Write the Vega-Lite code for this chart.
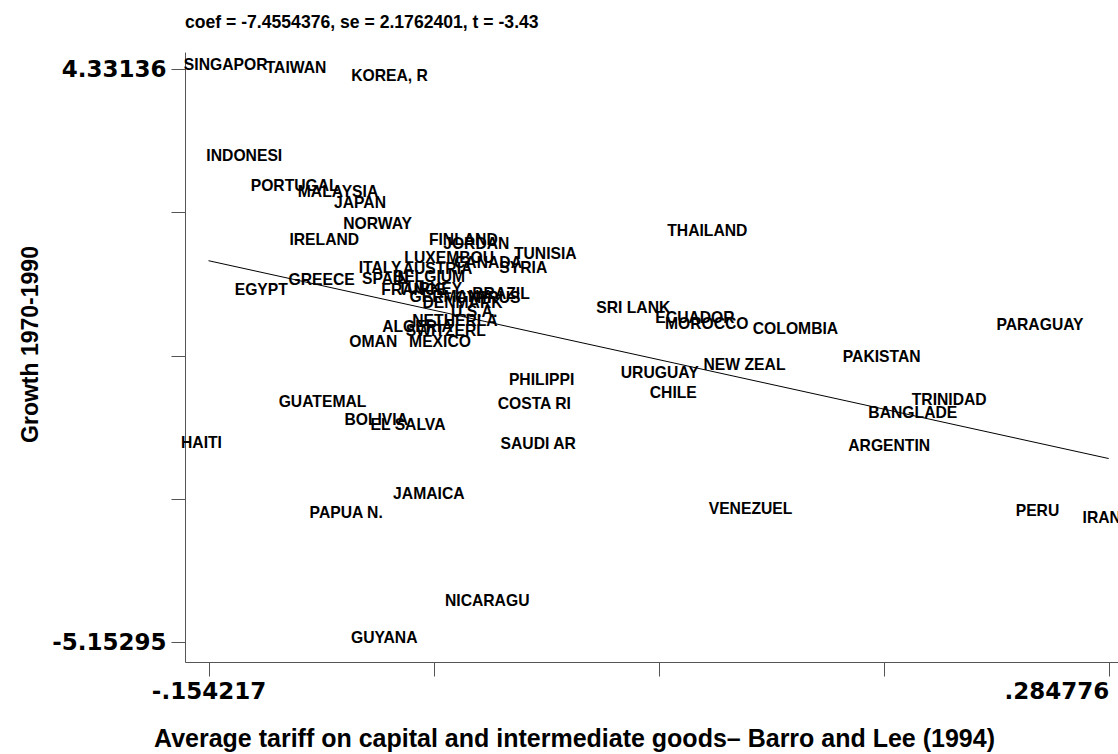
{
  "$schema": "https://vega.github.io/schema/vega-lite/v6.json",
  "autosize": "none",
  "width": 933,
  "height": 610,
  "padding": {"left": 185, "top": 52, "right": 0, "bottom": 92},
  "background": "white",
  "config": {"view": {"stroke": null}},
  "title": {
    "text": "coef = -7.4554376, se = 2.1762401, t = -3.43",
    "anchor": "start",
    "frame": "group",
    "font": "Liberation Sans",
    "fontWeight": "bold",
    "fontSize": 17.6,
    "color": "black",
    "offset": 20
  },
  "encoding": {
    "x": {
      "field": "x",
      "type": "quantitative",
      "scale": {"domain": [-0.16568, 0.28931], "nice": false, "zero": false},
      "axis": {
        "title": "Average tariff on capital and intermediate goods– Barro and Lee (1994)",
        "values": [-0.154217, -0.04446875, 0.0653005, 0.17502775, 0.284776],
        "labelExpr": "datum.value < -0.15 ? '-.154217' : (datum.value > 0.28 ? '.284776' : '')",
        "labelAlign": {"condition": {"test": "datum.value > 0.28", "value": "right"}, "value": "center"},
        "labelOverlap": false,
        "labelBound": false,
        "labelFlush": false,
        "grid": false,
        "domainColor": "#555555",
        "tickColor": "#555555",
        "tickSize": 14,
        "labelPadding": 4,
        "labelFont": "DejaVu Sans",
        "labelFontWeight": "bold",
        "labelFontSize": 23,
        "labelColor": "black",
        "titleFont": "Liberation Sans",
        "titleFontWeight": "bold",
        "titleFontSize": 25,
        "titleColor": "black",
        "titleX": 389,
        "titleY": 76,
        "titleBaseline": "middle",
        "titleAlign": "center"
      }
    },
    "y": {
      "field": "y",
      "type": "quantitative",
      "scale": {"domain": [-5.4789, 4.6126], "nice": false, "zero": false},
      "axis": {
        "title": "Growth 1970-1990",
        "values": [-5.15295, -2.78187, -0.410795, 1.960283, 4.33136],
        "labelExpr": "datum.value > 4 ? '4.33136' : (datum.value < -5 ? '-5.15295' : '')",
        "labelOverlap": false,
        "labelBound": false,
        "labelFlush": false,
        "grid": false,
        "domainColor": "#555555",
        "tickColor": "#555555",
        "tickSize": 14,
        "labelPadding": 5,
        "labelFont": "DejaVu Sans",
        "labelFontWeight": "bold",
        "labelFontSize": 23,
        "labelColor": "black",
        "titleFont": "Liberation Sans",
        "titleFontWeight": "bold",
        "titleFontSize": 23,
        "titleColor": "black",
        "titleAngle": -90,
        "titleX": -155,
        "titleY": 292,
        "titleAlign": "center",
        "titleBaseline": "middle"
      }
    }
  },
  "layer": [
    {
      "data": {
        "values": [
          {"country": "SINGAPOR", "x": -0.14242, "y": 4.33136},
          {"country": "TAIWAN", "x": -0.10814, "y": 4.2735},
          {"country": "KOREA, R", "x": -0.06254, "y": 4.1527},
          {"country": "INDONESI", "x": -0.13335, "y": 2.8226},
          {"country": "PORTUGAL", "x": -0.10877, "y": 2.3346},
          {"country": "MALAYSIA", "x": -0.08765, "y": 2.2337},
          {"country": "JAPAN", "x": -0.07693, "y": 2.0533},
          {"country": "NORWAY", "x": -0.06834, "y": 1.7092},
          {"country": "IRELAND", "x": -0.09434, "y": 1.4329},
          {"country": "EGYPT", "x": -0.12506, "y": 0.6058},
          {"country": "GREECE", "x": -0.0956, "y": 0.7712},
          {"country": "ITALY", "x": -0.06717, "y": 0.9648},
          {"country": "SPAIN", "x": -0.06454, "y": 0.7993},
          {"country": "OMAN", "x": -0.07044, "y": -0.2479},
          {"country": "FINLAND", "x": -0.02655, "y": 1.4329},
          {"country": "JORDAN", "x": -0.02021, "y": 1.3651},
          {"country": "TUNISIA", "x": 0.01344, "y": 1.2013},
          {"country": "LUXEMBOU", "x": -0.03343, "y": 1.1467},
          {"country": "CANADA", "x": -0.0145, "y": 1.0558},
          {"country": "SYRIA", "x": 0.00271, "y": 0.973},
          {"country": "AUSTRIA", "x": -0.03913, "y": 0.9565},
          {"country": "BELGIUM", "x": -0.04328, "y": 0.8324},
          {"country": "FRANCE", "x": -0.05059, "y": 0.6058},
          {"country": "TURKEY", "x": -0.04279, "y": 0.6256},
          {"country": "BRAZIL", "x": -0.00817, "y": 0.5429},
          {"country": "GERMANY", "x": -0.03323, "y": 0.4966},
          {"country": "CYPRUS", "x": -0.0146, "y": 0.4685},
          {"country": "DENMARK", "x": -0.02694, "y": 0.394},
          {"country": "U.S.A.", "x": -0.02124, "y": 0.2418},
          {"country": "NETHERLA", "x": -0.0306, "y": 0.088},
          {"country": "ALGERIA", "x": -0.04889, "y": 0.0003},
          {"country": "SWITZERL", "x": -0.03508, "y": -0.0725},
          {"country": "MEXICO", "x": -0.03791, "y": -0.2479},
          {"country": "THAILAND", "x": 0.09244, "y": 1.5851},
          {"country": "SRI LANK", "x": 0.05635, "y": 0.308},
          {"country": "ECUADOR", "x": 0.08644, "y": 0.1376},
          {"country": "MOROCCO", "x": 0.09215, "y": 0.0466},
          {"country": "COLOMBIA", "x": 0.13545, "y": -0.0328},
          {"country": "PARAGUAY", "x": 0.25468, "y": 0.03},
          {"country": "PAKISTAN", "x": 0.17749, "y": -0.4911},
          {"country": "NEW ZEAL", "x": 0.11058, "y": -0.6399},
          {"country": "URUGUAY", "x": 0.06923, "y": -0.7673},
          {"country": "CHILE", "x": 0.07586, "y": -1.0982},
          {"country": "TRINIDAD", "x": 0.2104, "y": -1.214},
          {"country": "BANGLADE", "x": 0.19266, "y": -1.429},
          {"country": "ARGENTIN", "x": 0.18114, "y": -1.9717},
          {"country": "VENEZUEL", "x": 0.11351, "y": -3.0189},
          {"country": "PERU", "x": 0.25346, "y": -3.047},
          {"country": "IRAN", "x": 0.284776, "y": -3.1578},
          {"country": "PHILIPPI", "x": 0.01163, "y": -0.8831},
          {"country": "GUATEMAL", "x": -0.09521, "y": -1.2405},
          {"country": "COSTA RI", "x": 0.00807, "y": -1.2686},
          {"country": "BOLIVIA", "x": -0.06903, "y": -1.5449},
          {"country": "EL SALVA", "x": -0.05352, "y": -1.6325},
          {"country": "HAITI", "x": -0.154217, "y": -1.9254},
          {"country": "SAUDI AR", "x": 0.00998, "y": -1.9436},
          {"country": "JAMAICA", "x": -0.04337, "y": -2.7608},
          {"country": "PAPUA N.", "x": -0.08366, "y": -3.0834},
          {"country": "NICARAGU", "x": -0.01489, "y": -4.5409},
          {"country": "GUYANA", "x": -0.06512, "y": -5.15295}
        ]
      },
      "mark": {
        "type": "text",
        "font": "Liberation Sans",
        "fontWeight": "bold",
        "fontSize": 15.7,
        "color": "black",
        "align": "center",
        "baseline": "middle",
        "dx": -7,
        "dy": -4
      },
      "encoding": {"text": {"field": "country", "type": "nominal"}}
    },
    {
      "data": {
        "values": [
          {"x": -0.154217, "y": 1.16},
          {"x": 0.284776, "y": -2.113}
        ]
      },
      "mark": {"type": "line", "color": "black", "strokeWidth": 1},
      "encoding": {}
    }
  ]
}
